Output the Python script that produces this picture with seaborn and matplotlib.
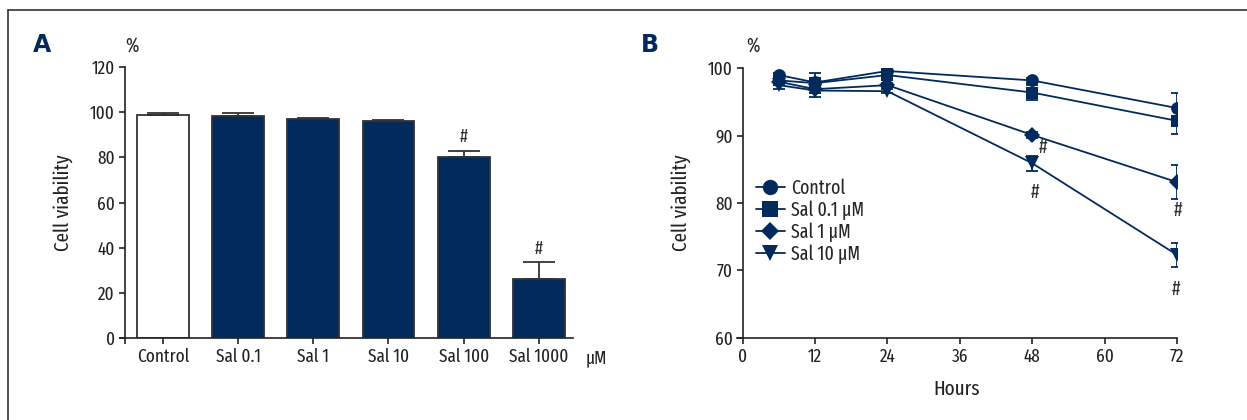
import numpy as np
import pandas as pd
import seaborn as sns
import matplotlib.pyplot as plt
from matplotlib.lines import Line2D
from matplotlib import font_manager

# ---------------- data ----------------
categories = ["Control", "Sal 0.1", "Sal 1", "Sal 10", "Sal 100", "Sal 1000"]
viability_a = [99.0, 98.4, 96.9, 96.3, 80.1, 26.2]
err_a = [0.6, 1.3, 0.5, 0.3, 2.9, 7.2]
sig_a = ["", "", "", "", "#", "#"]

hours = [6, 12, 24, 48, 72]
series_names = ["Control", "Sal 0.1 μM", "Sal 1 μM", "Sal 10 μM"]
control_b = [99.0, 97.9, 99.6, 98.2, 94.1]
sal01_b = [98.2, 97.8, 99.0, 96.4, 92.2]
sal1_b = [98.0, 96.9, 97.5, 90.1, 83.1]
sal10_b = [97.5, 96.7, 96.6, 85.9, 72.3]
control_err = [0.3, 0.4, 0.3, 0.4, 2.3]
sal01_err = [0.5, 1.5, 0.3, 1.1, 2.0]
sal1_err = [0.4, 0.5, 0.3, 0.4, 2.5]
sal10_err = [0.6, 0.9, 0.3, 1.1, 1.75]
sig_b = [(48, 88.2, 1.8), (48, 81.6, 0.4), (72, 78.9, 0.2), (72, 67.2, -0.2)]

# ---------------- style ----------------
sns.set_theme(style="ticks")
avail = {f.name for f in font_manager.fontManager.ttflist}
cands = ["Fira Sans Extra Condensed", "Open Sans Condensed", "Barlow Condensed",
         "PT Sans Narrow", "Roboto Condensed", "Archivo Narrow", "Asap Condensed"]
picked = [c for c in cands if c in avail][:1]
fam = picked + ["DejaVu Sans"]
plt.rcParams["font.family"] = fam
plt.rcParams["axes.linewidth"] = 1.2
plt.rcParams["xtick.major.width"] = 1.2
plt.rcParams["ytick.major.width"] = 1.2
plt.rcParams["xtick.major.size"] = 4
plt.rcParams["ytick.major.size"] = 4

NAVY = "#022a5c"
AXC = "#222222"
FS = 13.5   # tick labels
FL = 15     # axis labels

fig = plt.figure(figsize=(12.47, 4.2), dpi=100)

# frame lines (left and top)
fig.add_artist(Line2D([8 / 1247, 8 / 1247], [0, 1 - 10 / 420], color="#333333", lw=1.2))
fig.add_artist(Line2D([8 / 1247, 1], [1 - 10 / 420, 1 - 10 / 420], color="#333333", lw=1.2))

# ---------------- Panel A ----------------
axA = fig.add_axes([120 / 1247, 82.3 / 420, 452.7 / 1247, 270.4 / 420])
dfA = pd.DataFrame({"cat": categories, "val": viability_a})
sns.barplot(data=dfA, x="cat", y="val", hue="cat", order=categories, hue_order=categories,
            palette=["white"] + [NAVY] * 5, edgecolor="#333333", linewidth=1.3,
            width=0.69, legend=False, ax=axA, errorbar=None, saturation=1)
xpos = np.arange(len(categories))
axA.errorbar(xpos, viability_a, yerr=[np.zeros(len(err_a)), err_a], fmt="none",
             ecolor="#333333", elinewidth=1.3, capsize=11.5, capthick=1.3, zorder=1)
for x, v, e, s in zip(xpos, viability_a, err_a, sig_a):
    if s:
        axA.text(x, v + e + 2.0, s, ha="center", va="bottom", fontsize=13, color="#333333")
axA.set_xlim(-0.57, 5.45)
axA.set_ylim(0, 120)
axA.set_yticks([0, 20, 40, 60, 80, 100, 120])
axA.spines["left"].set_position(("data", -0.51))
axA.spines["left"].set_bounds(0, 120)
for s in ["top", "right"]:
    axA.spines[s].set_visible(False)
axA.set_xticks(xpos)
axA.set_xticklabels(categories)
axA.set_xticks([-0.51], minor=True)
axA.tick_params(axis="x", which="minor", length=4, width=1.2, color=AXC)
axA.tick_params(axis="both", labelsize=FS, colors=AXC, pad=3)
axA.set_xlabel("")
axA.set_ylabel("Cell viability", fontsize=FL, color=AXC, labelpad=12)
for sp in axA.spines.values():
    sp.set_color(AXC)
fig.text(596 / 1247, 1 - 358 / 420, "μM", ha="center", va="center", fontsize=FS, color=AXC)
fig.text(132 / 1247, 1 - 46 / 420, "%", ha="center", va="center", fontsize=14, color=AXC)
fig.text(42 / 1247, 1 - 45 / 420, "A", ha="center", va="center", fontsize=17,
         fontweight="bold", color=NAVY, family="DejaVu Sans")

# ---------------- Panel B ----------------
axB = fig.add_axes([737 / 1247, 82.3 / 420, 440 / 1247, 269.4 / 420])
vals = [control_b, sal01_b, sal1_b, sal10_b]
errs = [control_err, sal01_err, sal1_err, sal10_err]
markers = ["o", "s", "D", "v"]
msizes = [9.2, 9.2, 8.0, 9.5]
dfB = pd.DataFrame({
    "hours": hours * 4,
    "val": sum(vals, []),
    "series": sum([[n] * len(hours) for n in series_names], []),
})
sns.lineplot(data=dfB, x="hours", y="val", hue="series", style="series",
             hue_order=series_names, style_order=series_names,
             palette=[NAVY] * 4, markers=dict(zip(series_names, markers)), dashes=False,
             markersize=9, markeredgewidth=0, linewidth=1.3, ax=axB, legend=False, zorder=3)
for line, ms in zip(axB.get_lines(), msizes):
    line.set_markersize(ms)
for v, e in zip(vals, errs):
    axB.errorbar(hours, v, yerr=e, fmt="none", ecolor=NAVY, elinewidth=1.3,
                 capsize=4.5, capthick=1.3, zorder=2)
for hx, hy, dx in sig_b:
    axB.text(hx + dx, hy, "#", ha="center", va="center", fontsize=14, color="#333333")

axB.set_xlim(-0.95, 72)
axB.set_ylim(60, 100)
axB.set_xticks([0, 12, 24, 36, 48, 60, 72])
axB.set_yticks([60, 70, 80, 90, 100])
axB.spines["left"].set_position(("data", 0))
for s in ["top", "right"]:
    axB.spines[s].set_visible(False)
for sp in axB.spines.values():
    sp.set_color(AXC)
axB.tick_params(axis="both", labelsize=FS, colors=AXC, pad=3)
axB.set_xlabel("Hours", fontsize=FL, color=AXC, labelpad=10)
axB.set_ylabel("Cell viability", fontsize=FL, color=AXC, labelpad=12)

handles = [Line2D([0], [0], color=NAVY, lw=1.3, marker=m, markersize=s * 1.2, markeredgewidth=0)
           for m, s in zip(markers, msizes)]
axB.legend(handles, series_names, loc="upper left", bbox_to_anchor=(0.025, 0.62),
           frameon=False, fontsize=14, handlelength=1.5, handletextpad=0.3,
           labelspacing=0.12, borderaxespad=0)

fig.text(753 / 1247, 1 - 46 / 420, "%", ha="center", va="center", fontsize=14, color=AXC)
fig.text(650 / 1247, 1 - 45 / 420, "B", ha="center", va="center", fontsize=17,
         fontweight="bold", color=NAVY, family="DejaVu Sans")

fig.savefig("out.png", dpi=100)
